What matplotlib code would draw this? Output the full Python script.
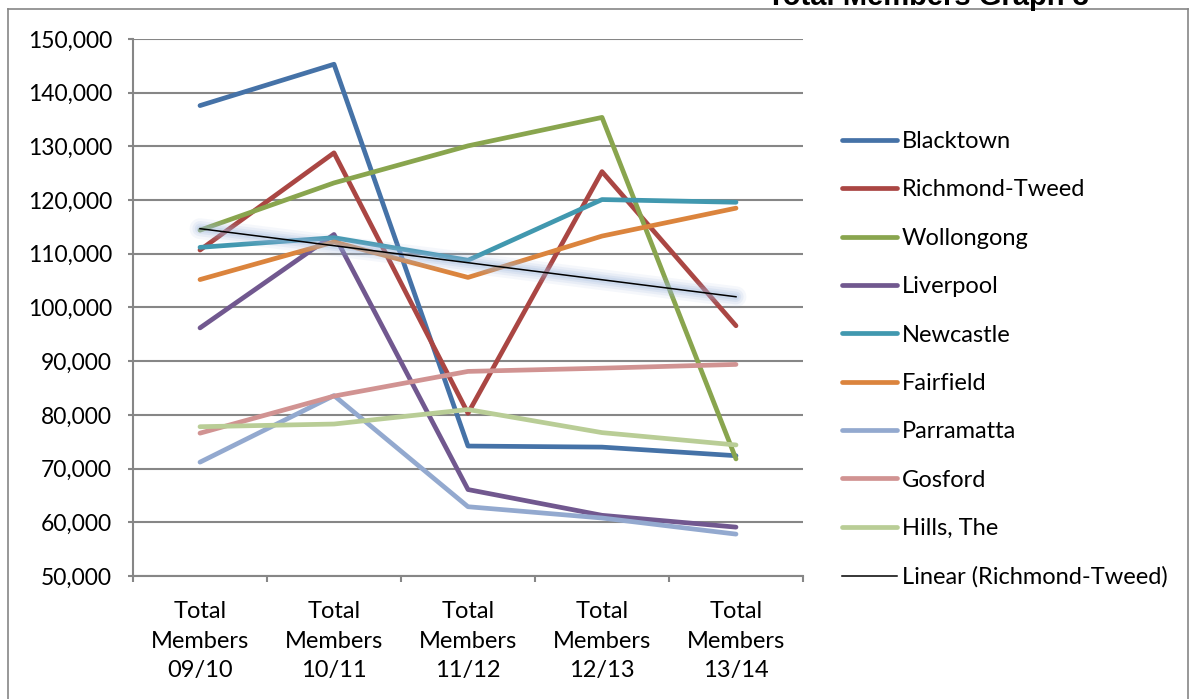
import numpy as np
import matplotlib.pyplot as plt
from matplotlib.lines import Line2D

# member totals per region, one value per season
seasons = ["Total\nMembers\n09/10", "Total\nMembers\n10/11", "Total\nMembers\n11/12",
           "Total\nMembers\n12/13", "Total\nMembers\n13/14"]

blacktown = [137600, 145300, 74200, 74000, 72400]
richmond_tweed = [110700, 128800, 80300, 125300, 96600]
wollongong = [114400, 123200, 130100, 135400, 71800]
liverpool = [96200, 113600, 66100, 61300, 59100]
newcastle = [111200, 113000, 108800, 120100, 119600]
fairfield = [105200, 112200, 105600, 113300, 118500]
parramatta = [71200, 83600, 62900, 60800, 57800]
gosford = [76600, 83500, 88100, 88700, 89400]
hills = [77800, 78300, 81000, 76700, 74400]

series = [
    ("Blacktown", blacktown, "#4572A7"),
    ("Richmond-Tweed", richmond_tweed, "#AA4643"),
    ("Wollongong", wollongong, "#89A54E"),
    ("Liverpool", liverpool, "#71588F"),
    ("Newcastle", newcastle, "#4198AF"),
    ("Fairfield", fairfield, "#DB843D"),
    ("Parramatta", parramatta, "#93A9CF"),
    ("Gosford", gosford, "#D19392"),
    ("Hills, The", hills, "#B9CD96"),
]

plt.rcParams['font.family'] = ['Lato', 'DejaVu Sans']

fig = plt.figure(figsize=(11.95, 6.99), dpi=100)
ax = fig.add_axes([133 / 1195, 1 - 576 / 699, (803 - 133) / 1195, (576 - 39) / 699])

x = np.arange(len(seasons))
for i, (name, vals, col) in enumerate(series):
    ax.plot(x, vals, color=col, lw=3.4, label=name, zorder=3 + i,
            solid_capstyle='round')

# linear trend of Richmond-Tweed, with a soft glow behind it
k, b = np.polyfit(x, richmond_tweed, 1)
trend = k * x + b
for w, a in [(15, 0.10), (11, 0.14), (7.5, 0.18), (4.5, 0.22)]:
    ax.plot(x, trend, color="#9DB6DE", lw=w, alpha=a, zorder=20,
            solid_capstyle='round')
ax.plot(x, trend, color="black", lw=1.1, zorder=21, label="Linear (Richmond-Tweed)")

ax.set_xlim(-0.5, len(seasons) - 0.5)
ax.set_ylim(50000, 150000)
ax.set_yticks(np.arange(50000, 150001, 10000))
ax.set_yticklabels([f"{v:,}" for v in range(50000, 150001, 10000)])
ax.set_xticks(x)
ax.set_xticklabels(seasons, linespacing=1.5)
ax.set_xticks(np.arange(-0.5, len(seasons)), minor=True)

ax.grid(axis='y', color="#868686", lw=1.5, zorder=0)
for s in ['top', 'right']:
    ax.spines[s].set_visible(False)
for s in ['left', 'bottom']:
    ax.spines[s].set_color("#868686")
    ax.spines[s].set_linewidth(1.5)
ax.tick_params(axis='y', length=3.6, width=1.5, color="#868686", labelsize=16.5, pad=11.5)
ax.tick_params(axis='x', which='major', length=0, labelsize=17, pad=18)
ax.tick_params(axis='x', which='minor', length=4, width=1.5, color="#868686")

leg = ax.legend(loc='upper left', bbox_to_anchor=(842 / 1195, 1 - 131 / 699),
                bbox_transform=fig.transFigure, frameon=False, fontsize=17,
                handlelength=2.33, handletextpad=0.2, labelspacing=1.16,
                borderpad=0, borderaxespad=0)

# chart frame and title
fig.add_artist(Line2D([8 / 1195, 8 / 1195], [0, 1 - 9 / 699], color="#868686", lw=1.2))
fig.add_artist(Line2D([8 / 1195, 1188 / 1195], [1 - 9 / 699, 1 - 9 / 699], color="#868686", lw=1.2))
fig.add_artist(Line2D([1188 / 1195, 1188 / 1195], [0, 1 - 9 / 699], color="#868686", lw=1.2))
fig.text(928 / 1195, 1 - 5 / 699, "Total Members Graph 3", ha='center', va='baseline',
         fontsize=21, fontweight='bold', family=['Liberation Sans', 'DejaVu Sans'])

fig.savefig("out.png", dpi=100)
